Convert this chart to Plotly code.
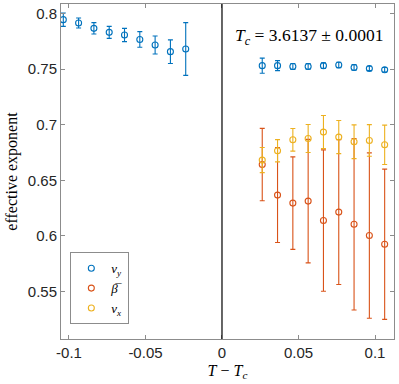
import plotly.graph_objects as go

# x = T - Tc
x_left = [-0.1037, -0.0937, -0.0837, -0.0737, -0.0637, -0.0537, -0.0437, -0.0337, -0.0237]
x_right = [0.0263, 0.0363, 0.0463, 0.0563, 0.0663, 0.0763, 0.0863, 0.0963, 0.1063]

nu_y_left = [0.7946, 0.7916, 0.7868, 0.7832, 0.7808, 0.7768, 0.7718, 0.7658, 0.7682]
nu_y_left_err = [0.0060, 0.0045, 0.0051, 0.0054, 0.0060, 0.0070, 0.0081, 0.0106, 0.0237]
nu_y_right = [0.7532, 0.7532, 0.7525, 0.7525, 0.7532, 0.7538, 0.7516, 0.7507, 0.7495]
nu_y_right_err = [0.0068, 0.0045, 0.0027, 0.0025, 0.0025, 0.0025, 0.0025, 0.0020, 0.0020]

beta = [0.6642, 0.6367, 0.6295, 0.6313, 0.6138, 0.6214, 0.6105, 0.6003, 0.5925]
beta_err = [0.0326, 0.0427, 0.0416, 0.0556, 0.0636, 0.0652, 0.0772, 0.0744, 0.0676]

nu_x = [0.6682, 0.6766, 0.6865, 0.6877, 0.6934, 0.6889, 0.6847, 0.6859, 0.6820]
nu_x_err = [0.0113, 0.0100, 0.0102, 0.0126, 0.0149, 0.0149, 0.0152, 0.0142, 0.0177]

x_ticks = [-0.1, -0.05, 0, 0.05, 0.1]
x_tick_labels = ["-0.1", "-0.05", "0", "0.05", "0.1"]
y_ticks = [0.55, 0.6, 0.65, 0.7, 0.75, 0.8]
y_tick_labels = ["0.55", "0.6", "0.65", "0.7", "0.75", "0.8"]

Tc_label = "<i>T</i><sub><i>c</i></sub> = 3.6137 ± 0.0001"

c_blue = "#0072BD"
c_orange = "#D95319"
c_yellow = "#EDB120"

def series(x, y, e, color, name):
    return go.Scatter(
        x=x, y=y, mode="markers", name=name,
        marker=dict(symbol="circle-open", size=6, color=color, line=dict(width=1.1, color=color)),
        error_y=dict(type="data", array=e, visible=True, color=color, thickness=1.1, width=2.5),
    )

fig = go.Figure()
fig.add_trace(series(x_left + x_right, nu_y_left + nu_y_right, nu_y_left_err + nu_y_right_err,
                     c_blue, "<i>ν<sub>y</sub></i>"))
fig.add_trace(series(x_right, beta, beta_err, c_orange, "<i>β\u0305</i>"))
fig.add_trace(series(x_right, nu_x, nu_x_err, c_yellow, "<i>ν<sub>x</sub></i>"))

fig.add_shape(type="line", xref="x", yref="paper", x0=0, x1=0, y0=0, y1=1,
              line=dict(color="black", width=1.2))

fig.add_annotation(x=0.745, y=0.903, xref="paper", yref="paper", text=Tc_label,
                   xanchor="center", yanchor="middle",
                   showarrow=False, font=dict(family="Liberation Serif", size=17.5, color="black"))

axis_common = dict(
    showgrid=False, zeroline=False, showline=True, linecolor="#8c8c8c", linewidth=1,
    mirror="ticks", ticks="inside", ticklen=4, tickcolor="#8c8c8c",
    tickfont=dict(family="Liberation Sans", size=15, color="#262626"),
)

fig.update_layout(
    width=399, height=384,
    margin=dict(l=61, r=5, t=4, b=45, autoexpand=False),
    paper_bgcolor="white", plot_bgcolor="white",
    xaxis=dict(range=[-0.1052, 0.1124], tickvals=x_ticks, ticktext=x_tick_labels,
               automargin=False,
               title=dict(text="<i>T</i> − <i>T<sub>c</sub></i>", standoff=4,
                          font=dict(family="Liberation Serif", size=16, color="black")),
               **axis_common),
    yaxis=dict(range=[0.5072, 0.8087], tickvals=y_ticks, ticktext=y_tick_labels,
               automargin=False,
               title=dict(text="effective exponent", standoff=6,
                          font=dict(family="Liberation Serif", size=16, color="black")),
               **axis_common),
    legend=dict(x=0.028, y=0.044, xanchor="left", yanchor="bottom",
                bgcolor="white", bordercolor="#8c8c8c", borderwidth=1,
                font=dict(family="Liberation Serif", size=13, color="black"),
                tracegroupgap=0, itemwidth=30),
    showlegend=True,
)

fig.write_html("out.html", config={"displayModeBar": False},
               post_script="document.body.style.margin='0';")
